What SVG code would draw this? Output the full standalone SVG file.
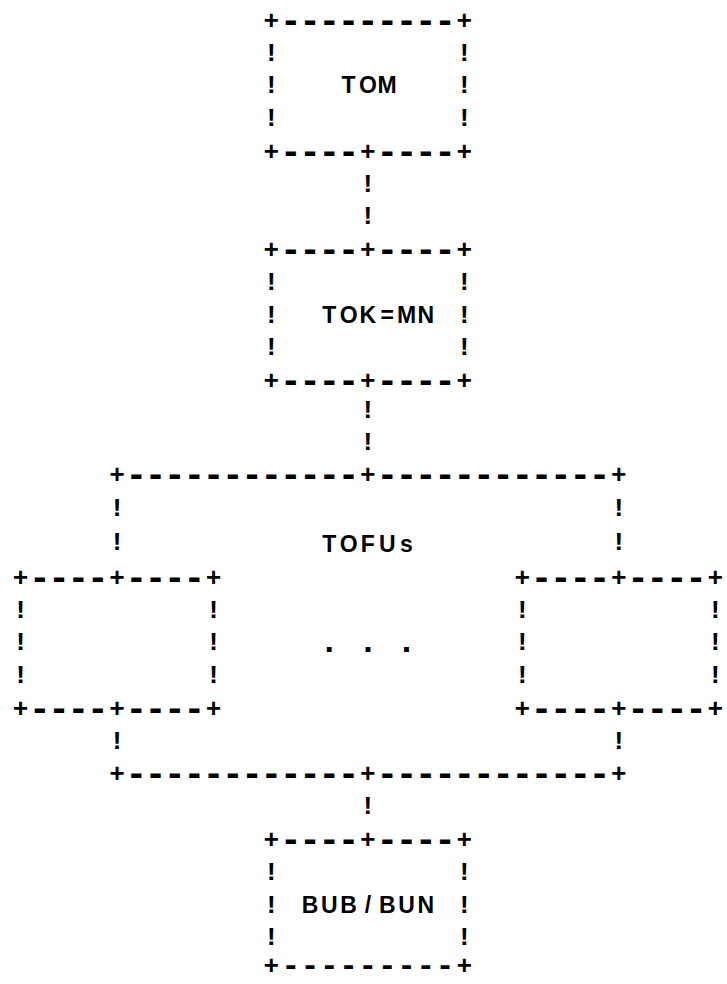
<svg xmlns="http://www.w3.org/2000/svg" width="727" height="984" viewBox="0 0 727 984">
<style>
text{font-family:"Liberation Mono","DejaVu Sans Mono",monospace;font-size:26px;font-weight:bold;text-anchor:middle;fill:#000}
.d{font-size:36px}
.d2{font-size:31px}
.lbl{font-family:"Liberation Sans","DejaVu Sans",sans-serif;font-size:23px;font-weight:bold}
.dot{font-family:"Liberation Sans","DejaVu Sans",sans-serif;font-size:34px;font-weight:bold}
</style>
<rect width="727" height="984" fill="#fff"/>
<g id="tom">
<text y="29"><tspan x="271.4">+</tspan><tspan class="d" y="32" x="290.7 310 329.3 348.6 367.9 387.2 406.5 425.8 445.1">---------</tspan><tspan x="464.4" y="29">+</tspan></text>
<text x="271.4" y="61">!</text><text x="464.4" y="61">!</text>
<text x="271.4" y="93">!</text><text class="lbl" x="348.6 367.9 387.2" y="93">TOM</text><text x="464.4" y="93">!</text>
<text x="271.4" y="126">!</text><text x="464.4" y="126">!</text>
<text y="160"><tspan x="271.4">+</tspan><tspan class="d" y="163" x="290.7 310 329.3 348.6">----</tspan><tspan x="367.9" y="160">+</tspan><tspan class="d" y="163" x="387.2 406.5 425.8 445.1">----</tspan><tspan x="464.4" y="160">+</tspan></text>
</g>
<g id="tokmn">
<text y="258"><tspan x="271.4">+</tspan><tspan class="d" y="261" x="290.7 310 329.3 348.6">----</tspan><tspan x="367.9" y="258">+</tspan><tspan class="d" y="261" x="387.2 406.5 425.8 445.1">----</tspan><tspan x="464.4" y="258">+</tspan></text>
<text x="271.4" y="290">!</text><text x="464.4" y="290">!</text>
<text x="271.4" y="323">!</text><text class="lbl" x="329.3 348.6 367.9 387.2 406.5 425.8" y="323">TOK=MN</text><text x="464.4" y="323">!</text>
<text x="271.4" y="355">!</text><text x="464.4" y="355">!</text>
<text y="389"><tspan x="271.4">+</tspan><tspan class="d" y="392" x="290.7 310 329.3 348.6">----</tspan><tspan x="367.9" y="389">+</tspan><tspan class="d" y="392" x="387.2 406.5 425.8 445.1">----</tspan><tspan x="464.4" y="389">+</tspan></text>
</g>
<g id="tofus">
<text y="483"><tspan x="117">+</tspan><tspan class="d" y="486" x="136.3 155.6 174.9 194.2 213.5 232.8 252.1 271.4 290.7 310 329.3 348.6">------------</tspan><tspan x="367.9" y="483">+</tspan><tspan class="d" y="486" x="387.2 406.5 425.8 445.1 464.4 483.7 503 522.3 541.6 560.9 580.2 599.5">------------</tspan><tspan x="618.8" y="483">+</tspan></text>
<text class="lbl" x="329.3 348.6 367.9 387.2 406.5" y="552">TOFUs</text>
<text class="dot" x="329.3 367.9 406.5" y="652">...</text>
<text y="782"><tspan x="117">+</tspan><tspan class="d" y="785" x="136.3 155.6 174.9 194.2 213.5 232.8 252.1 271.4 290.7 310 329.3 348.6">------------</tspan><tspan x="367.9" y="782">+</tspan><tspan class="d" y="785" x="387.2 406.5 425.8 445.1 464.4 483.7 503 522.3 541.6 560.9 580.2 599.5">------------</tspan><tspan x="618.8" y="782">+</tspan></text>
</g>
<g id="tofu-left">
<text y="586"><tspan x="20.5">+</tspan><tspan class="d" y="589" x="39.8 59.1 78.4 97.7">----</tspan><tspan x="117" y="586">+</tspan><tspan class="d" y="589" x="136.3 155.6 174.9 194.2">----</tspan><tspan x="213.5" y="586">+</tspan></text>
<text x="20.5" y="618">!</text><text x="213.5" y="618">!</text>
<text x="20.5" y="650">!</text><text x="213.5" y="650">!</text>
<text x="20.5" y="683">!</text><text x="213.5" y="683">!</text>
<text y="717"><tspan x="20.5">+</tspan><tspan class="d" y="720" x="39.8 59.1 78.4 97.7">----</tspan><tspan x="117" y="717">+</tspan><tspan class="d" y="720" x="136.3 155.6 174.9 194.2">----</tspan><tspan x="213.5" y="717">+</tspan></text>
</g>
<g id="tofu-right">
<text y="586"><tspan x="522.3">+</tspan><tspan class="d" y="589" x="541.6 560.9 580.2 599.5">----</tspan><tspan x="618.8" y="586">+</tspan><tspan class="d" y="589" x="638.1 657.4 676.7 696">----</tspan><tspan x="715.3" y="586">+</tspan></text>
<text x="522.3" y="618">!</text><text x="715.3" y="618">!</text>
<text x="522.3" y="650">!</text><text x="715.3" y="650">!</text>
<text x="522.3" y="683">!</text><text x="715.3" y="683">!</text>
<text y="717"><tspan x="522.3">+</tspan><tspan class="d" y="720" x="541.6 560.9 580.2 599.5">----</tspan><tspan x="618.8" y="717">+</tspan><tspan class="d" y="720" x="638.1 657.4 676.7 696">----</tspan><tspan x="715.3" y="717">+</tspan></text>
</g>
<g id="bubbun">
<text y="848"><tspan x="271.4">+</tspan><tspan class="d" y="851" x="290.7 310 329.3 348.6">----</tspan><tspan x="367.9" y="848">+</tspan><tspan class="d" y="851" x="387.2 406.5 425.8 445.1">----</tspan><tspan x="464.4" y="848">+</tspan></text>
<text x="271.4" y="880">!</text><text x="464.4" y="880">!</text>
<text x="271.4" y="913">!</text><text class="lbl" x="310 329.3 348.6 367.9 387.2 406.5 425.8" y="913">BUB/BUN</text><text x="464.4" y="913">!</text>
<text x="271.4" y="945">!</text><text x="464.4" y="945">!</text>
<text y="974"><tspan x="271.4">+</tspan><tspan class="d2" y="975" x="290.7 310 329.3 348.6 367.9 387.2 406.5 425.8 445.1">---------</tspan><tspan x="464.4" y="974">+</tspan></text>
</g>
<g id="connectors">
<text x="367.9" y="192">!</text>
<text x="367.9" y="224">!</text>
<text x="367.9" y="418">!</text>
<text x="367.9" y="450">!</text>
<text x="117" y="516">!</text><text x="618.8" y="516">!</text>
<text x="117" y="550">!</text><text x="618.8" y="550">!</text>
<text x="117" y="749">!</text><text x="618.8" y="749">!</text>
<text x="367.9" y="814">!</text>
</g>
</svg>
